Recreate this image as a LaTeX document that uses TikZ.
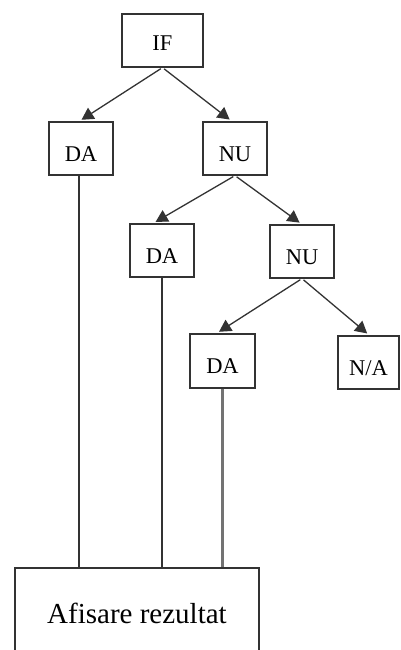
\documentclass[tikz,border=0pt]{standalone}
\usepackage{fontspec}
\setmainfont{Liberation Serif}
\usetikzlibrary{arrows.meta}
\begin{document}
\begin{tikzpicture}[x=1pt,y=-1pt,
  box/.style={draw=black!80,line width=1.2pt,inner sep=0pt,text height=25pt,text depth=0pt,font=\fontsize{22.5}{25}\selectfont},
  arr/.style={draw=black!80,line width=1.3pt,-{Triangle[length=12pt,width=13pt]},shorten <=2pt,shorten >=3pt},
  link/.style={draw=black!80,line width=1.2pt},
  greylink/.style={draw=black!55,line width=2.2pt}]
\useasboundingbox (0,0) rectangle (400,650);
\clip (0,0) rectangle (400,650);
\node[box,minimum width=81pt,minimum height=53pt,text height=21pt] (if) at (162.5,40.5) {IF};
\node[box,minimum width=64pt,minimum height=53pt] (da1) at (81,148.5) {DA};
\node[box,minimum width=64pt,minimum height=53pt] (nu1) at (235,148.5) {NU};
\node[box,minimum width=64pt,minimum height=53pt] (da2) at (162,250.5) {DA};
\node[box,minimum width=64pt,minimum height=53pt] (nu2) at (302,251.5) {NU};
\node[box,minimum width=65pt,minimum height=54pt] (da3) at (222.5,361) {DA};
\node[box,minimum width=61pt,minimum height=53pt] (na) at (368.5,362.5) {N/A};
\node[draw=black!80,line width=1.2pt,inner sep=0pt,minimum width=244pt,minimum height=90pt,font=\fontsize{29}{32}\selectfont] (res) at (137,613) {Afisare rezultat};
\draw[arr] (if.south) -- ([xshift=-2pt]da1.north);
\draw[arr] (if.south) -- ([xshift=-3pt]nu1.north);
\draw[arr] (nu1.south) -- ([xshift=-9pt]da2.north);
\draw[arr] (nu1.south) -- (nu2.north);
\draw[arr] (nu2.south) -- ([xshift=-6pt]da3.north);
\draw[arr] (nu2.south) -- ([xshift=1pt]na.north);
\draw[link] ([xshift=-2pt]da1.south) -- ([xshift=-2pt]da1.south |- res.north);
\draw[link] (da2.south) -- (da2.south |- res.north);
\draw[greylink] (da3.south) -- (da3.south |- res.north);
\end{tikzpicture}
\end{document}
